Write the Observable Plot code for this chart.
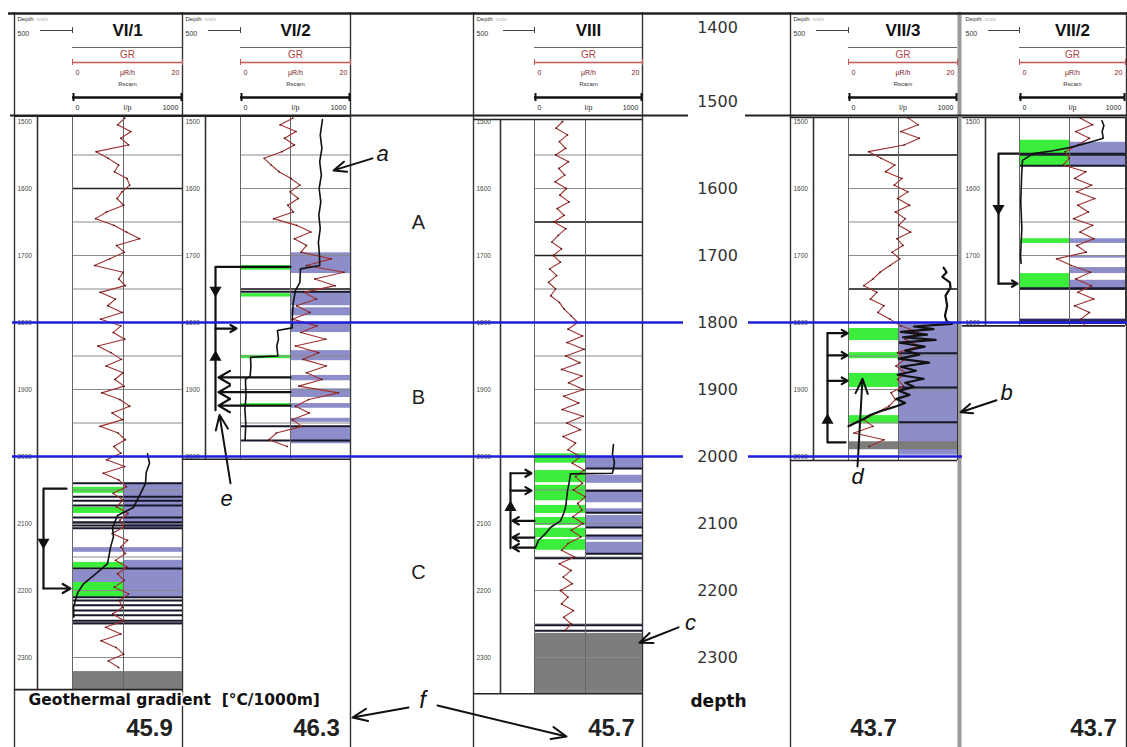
<!DOCTYPE html>
<html><head><meta charset="utf-8">
<script src="https://cdn.jsdelivr.net/npm/d3@7"></script>
<script src="https://cdn.jsdelivr.net/npm/@observablehq/plot@0.6"></script>
<style>
html,body{margin:0;padding:0;background:#fff;}
#chart{position:relative;width:1127px;height:747px;overflow:hidden;background:#fff;}
#chart svg{position:absolute;left:0;top:0;}
</style></head>
<body><div id="chart"></div>
<script>
// ================= DATA =================
const wellNames = ["VI/1", "VI/2", "VIII", "VII/3", "VII/2"];
const logTop = [1492, 1492, 1497, 1494, 1494];
const logBottom = [2348, 2004, 2354, 2006, 1805];
const geoGradient = ["45.9", "46.3", "45.7", "43.7", "43.7"];
const centralDepths = [1400, 1500, 1600, 1700, 1800, 1900, 2000, 2100, 2200, 2300];
const zoneLetters = ["A", "B", "C"];
const zoneDepths = [1651, 1912, 2173];
const horizonDepths = [1800, 2000];

// GR (µR/h, 0–20), sampled every 10 m from grStart
const grStep = 10;
const grStart = [1495, 1495, 1500, 1495, 1495];
const grVI1 = [9.5,8.2,10.6,8.8,10.2,4.3,6.5,8.4,7.6,9.9,10.4,9.0,8.1,9.3,6.2,4.2,7.5,9.8,12.2,8.0,9.4,6.8,4.0,9.2,8.4,9.6,5.0,7.8,6.4,9.0,5.1,8.8,7.4,9.5,4.6,7.0,8.9,6.1,9.2,7.7,9.4,5.3,8.6,10.4,7.2,9.1,5.0,8.3,9.6,7.5,8.8,6.2,9.5,5.6,8.4,9.8,7.4,9.2,8.0,10.1,8.6,9.4,7.2,10.0,8.8,9.6,7.8,9.9,8.2,9.4,7.6,10.2,8.5,9.1,7.3,9.4,6.0,8.8,5.2,7.9,9.3,6.5,8.4];
const grVI2 = [9.5,7.2,10.1,8.0,9.8,7.5,4.3,5.6,7.0,9.2,10.8,9.0,10.5,8.6,9.6,6.0,10.2,12.8,9.8,12.0,11.0,16.5,12.0,18.8,13.5,17.2,11.5,13.8,10.2,12.6,9.4,13.9,11.0,15.5,10.0,14.2,11.4,15.6,12.0,14.8,10.6,17.8,12.4,10.0,12.5,9.4,11.2,6.5,5.2,8.5];
const grVIII = [5.2,4.0,6.1,4.6,5.8,3.9,6.3,4.5,5.6,3.8,5.9,4.7,6.4,4.2,5.5,3.6,5.8,4.4,3.2,5.0,3.5,4.8,2.8,4.1,2.6,3.9,3.0,4.6,5.5,6.8,8.0,6.2,8.9,6.0,9.2,5.8,8.4,5.0,8.8,6.3,9.1,5.4,8.2,5.1,9.0,6.0,8.5,5.3,7.6,6.2,8.5,7.0,9.2,7.6,8.9,7.2,9.4,8.0,8.8,7.1,9.0,6.8,8.6,6.2,5.0,7.4,4.6,6.8,5.3,7.0,4.8,6.2,5.0,7.2,5.4,6.8,5.6];
const grVII3 = [11.0,12.8,9.6,13.0,10.2,3.7,6.0,8.5,6.8,9.8,8.4,10.9,9.0,11.2,8.6,10.4,9.2,11.4,8.9,10.0,8.0,9.4,7.6,5.8,4.5,2.8,5.2,4.0,6.5,5.4,7.6,9.6,12.8,10.4,13.0,9.0,10.3,8.7,10.5,9.0,10.1,7.8,8.6,7.4,5.0,2.8,4.5,1.0,6.5,3.8];
const grVII2 = [11.5,13.8,10.6,13.2,11.0,8.6,9.4,8.2,12.5,10.4,13.6,10.8,14.2,11.0,13.0,10.2,13.8,11.4,14.0,10.8,12.6,7.0,9.8,13.4,10.6,13.6,11.0,14.0,10.4,13.2,11.6,12.4];

// Resistivity-type log (I/p, 0–1000): [depth, value]
const rtVI1 = [[1996,682],[2010,700],[2024,670],[2040,664],[2058,610],[2076,555],[2088,409],[2106,364],[2120,372],[2136,345],[2150,330],[2160,318],[2173,227],[2190,100],[2204,45],[2225,9],[2240,12]];
const rtVI2 = [[1497,745],[1520,725],[1540,740],[1560,720],[1580,735],[1600,715],[1620,730],[1640,712],[1660,725],[1680,708],[1700,718],[1715,720],[1720,545],[1740,540],[1752,500],[1770,480],[1790,472],[1808,470],[1812,336],[1825,345],[1835,330],[1850,340],[1852,91],[1865,95],[1880,88],[1885,45],[1910,50],[1930,40],[1950,48],[1975,42]];
const rtVIII = [[1982,731],[1996,722],[2009,740],[2021,728],[2025,720],[2026,333],[2040,320],[2051,306],[2060,300],[2076,287],[2085,270],[2096,241],[2106,148],[2115,102],[2125,37],[2136,9]];
const rtVII3 = [[1718,872],[1725,900],[1732,860],[1740,930],[1748,936],[1760,890],[1775,905],[1790,885],[1798,900],[1802,950],[1806,600],[1810,780],[1814,480],[1818,720],[1822,500],[1826,800],[1830,470],[1836,700],[1842,520],[1848,650],[1854,460],[1860,740],[1866,480],[1872,620],[1878,450],[1884,690],[1890,520],[1896,600],[1902,460],[1908,560],[1914,440],[1920,520],[1926,420],[1932,300],[1938,200],[1944,138],[1950,60],[1955,0]];
const rtVII2 = [[1499,778],[1506,796],[1515,780],[1525,790],[1532,640],[1539,472],[1544,300],[1548,130],[1558,28],[1580,20],[1620,12],[1660,22],[1700,10],[1712,15]];

// coloured beds [top, bottom] (m)
const greenVI1 = [[2046,2055],[2076,2085],[2158,2167],[2188,2210]];
const greenVI2 = [[1715,1722],[1757,1762],[1849,1854],[1921,1924]];
const greenVIII = [[1996,2010],[2021,2039],[2043,2066],[2073,2085],[2091,2103],[2107,2121],[2124,2140]];
const greenVII3 = [[1809,1827],[1845,1854],[1876,1897],[1939,1951]];
const greenVII2 = [[1528,1566],[1675,1682],[1727,1749]];
const blueVI1 = [[2040,2107],[2155,2210]];
const blueVI2 = [[1696,1727],[1754,1775],[1778,1790],[1801,1815],[1842,1857],[1879,1887],[1899,1912],[1921,1928],[1943,1949],[1957,1981]];
const blueVIII = [[2001,2018],[2028,2040],[2051,2069],[2078,2084],[2088,2106],[2118,2125],[2128,2145]];
const blueVII3 = [[1800,1998]];
const blueVII2 = [[1531,1566],[1675,1682],[1700,1704],[1718,1727],[1737,1752]];
const blueLeftVI1 = [[2170,2188]];
const blueFullVI1 = [[2136,2143]];
const grayVI1 = [[2321,2348]];
const grayVIII = [[2264,2354]];
const grayVII3 = [[1978,1990]];
const navyVII2 = [[1795,1803]];
// bed boundary lines (m)
const bedLinesVI1 = [2040,2060,2066,2073,2091,2098,2103,2107,2167,2210,2215,2222,2230,2237,2245,2249];
const bedLinesVI2 = [1754,1955,1976];
const bedLinesVIII = [2152,2252,2260];
const bedLinesVIIIright = [2018,2051,2084,2106,2118,2145];
const bedLinesVII3right = [1846,1897,1949];
const bedLinesVII2 = [1548,1566,1749];
const formationTops = [[1600],[1750],[1650,1700],[1550,1750],[1550,1750]];

// ================= LAYOUT (pixels) =================
const W = 1127, H = 747;
const layout = {
  "VI/1":  {panel:[14,182],  dcol:37,  track:[72,182],   mid:123,  gradX:149},
  "VI/2":  {panel:[182,350], dcol:205, track:[240,350],  mid:290,  gradX:316},
  "VIII":  {panel:[473,642], dcol:500, track:[534,642],  mid:585,  gradX:611},
  "VII/3": {panel:[790,960], dcol:813, track:[848,957],  mid:898,  gradX:873},
  "VII/2": {panel:[962,1126],dcol:985, track:[1019,1125],mid:1069, gradX:1093}
};
const depthY = {domain:[1800,2000], range:[322,456], axis:null};
const C = {green:"#3cee3c", blue:"#8d8dca", gray:"#7c7c7c", navy:"#28285e", bed:"#17172a", hz:"#1e1ed8", gr:"#a03030"};
const baseStyle = {position:"absolute", left:"0px", top:"0px", background:"transparent", overflow:"visible", fontFamily:"'Liberation Sans', Arial, sans-serif"};

// ================= TABLES =================
const greens = [greenVI1, greenVI2, greenVIII, greenVII3, greenVII2];
const blues = [blueVI1, blueVI2, blueVIII, blueVII3, blueVII2];
const grs = [grVI1, grVI2, grVIII, grVII3, grVII2];
const rts = [rtVI1, rtVI2, rtVIII, rtVII3, rtVII2];

const beds = [];
function addBeds(well, list, side, color){ list.forEach(([t,b]) => beds.push({well, side, color, top:t, bottom:b})); }
wellNames.forEach((w,i) => { addBeds(w, greens[i], "left", C.green); addBeds(w, blues[i], "right", C.blue); });
addBeds("VI/1", blueLeftVI1, "left", C.blue);
addBeds("VI/1", blueFullVI1, "full", C.blue);
addBeds("VI/1", grayVI1, "full", C.gray);
addBeds("VIII", grayVIII, "full", C.gray);
addBeds("VII/3", grayVII3, "full", C.gray);
addBeds("VII/2", navyVII2, "full", C.navy);

const bedLines = [];
function addLines(well, list, side){ list.forEach(d => bedLines.push({well, side, depth:d})); }
addLines("VI/1", bedLinesVI1, "full"); addLines("VI/2", bedLinesVI2, "full");
addLines("VIII", bedLinesVIII, "full"); addLines("VIII", bedLinesVIIIright, "right");
addLines("VII/3", bedLinesVII3right, "right"); addLines("VII/2", bedLinesVII2, "full");

const xLeft = d => d.side === "right" ? layout[d.well].mid : layout[d.well].track[0];
const xRight = d => d.side === "left" ? layout[d.well].mid : layout[d.well].track[1];

const grid = [], tops = [], depthLabels = [], frames = [];
wellNames.forEach((w,i) => {
  for (let d = 1550; d < logBottom[i]; d += 50) if (d > logTop[i]) grid.push({well:w, depth:d});
  formationTops[i].forEach(d => tops.push({well:w, depth:d}));
  for (let d = 1500; d <= logBottom[i] - 2; d += 100) if (d >= logTop[i]) depthLabels.push({well:w, depth:d});
  const L = layout[w];
  [L.dcol, L.track[0], L.mid, L.track[1]].forEach((x,k) => frames.push({well:w, x, top:logTop[i], bottom:logBottom[i], k}));
});
const logEnds = wellNames.flatMap((w,i) => [{well:w, depth:logTop[i]}, {well:w, depth:logBottom[i]}]);

// annotation geometry (x in px, y in depth)
const bracketPaths = [
  {id:"VI1", pts:[[66,2048],[43,2048],[43,2197]]},
  {id:"VI2", pts:[[290,1717],[215,1717],[215,1931]]},
  {id:"VIII", pts:[[510,2025],[510,2137]]},
  {id:"VII3", pts:[[845,1979],[827,1979],[827,1816]]},
  {id:"VII2", pts:[[1018,1548],[998,1548],[998,1742]]}
].flatMap(b => b.pts.map(([x,y]) => ({id:b.id, x, y})));
const bracketArrows = [
  [43,2197,70,2197],
  [215,1809,236,1809],[290,1882,218,1882],[290,1904,218,1904],[290,1924,218,1924],
  [510,2025,531,2025],[510,2051,531,2051],[534,2096,512,2096],[534,2121,512,2121],[534,2136,512,2136],
  [827,1816,847,1816],[827,1849,847,1849],[827,1887,847,1887],
  [998,1742,1017,1742]
].map(([x1,y1,x2,y2]) => ({x1,y1,x2,y2}));
const bracketHeads = [
  {x:43,y:2128,dir:180},{x:215,y:1752,dir:180},{x:215,y:1852,dir:0},
  {x:510,y:2076,dir:0},{x:827,y:1946,dir:0},{x:998,y:1630,dir:180}
];
const pointerArrows = [
  {x1:372,y1:1555,x2:333,y2:1573},{x1:996,y1:1916,x2:960,y2:1934},
  {x1:678,y1:2255,x2:639,y2:2278},{x1:857,y1:2015,x2:862,y2:1884},
  {x1:230,y1:2040,x2:219,y2:1938}
];
const pointerLabels = [
  {t:"a",x:382,y:1549},{t:"b",x:1006,y:1905},{t:"c",x:690,y:2248},{t:"d",x:857,y:2030},{t:"e",x:226,y:2064}
];
const horizonSegs = [
  {depth:1800,x1:12,x2:683},{depth:1800,x1:748,x2:1127},
  {depth:2000,x1:12,x2:683},{depth:2000,x1:748,x2:962}
];

// ================= PLOTS =================
const chart = document.getElementById("chart");
function add(p){ chart.appendChild(p); }

// --- frame / header layer (pixel coordinates) ---
const hdr = wellNames.map(w => ({w, ...layout[w], cx:(layout[w].track[0]+layout[w].track[1])/2}));
const borders = [14,182,350,473,642,790,1126];
add(Plot.plot({
  width:W, height:H, margin:0, style:baseStyle,
  x:{type:"identity", axis:null}, y:{type:"identity", axis:null},
  marks:[
    Plot.ruleX(borders, {x:d=>d, y1:12, y2:747, stroke:"#333", strokeWidth:1.4}),
    Plot.ruleX([959], {x:d=>d, y1:12, y2:747, stroke:"#9a9a9a", strokeWidth:4}),
    Plot.ruleY([13], {y:d=>d, x1:8, x2:1127, stroke:"#222", strokeWidth:2.5}),
    Plot.ruleY([{x1:10,x2:688},{x1:745,x2:1127}], {y:115, x1:"x1", x2:"x2", stroke:"#222", strokeWidth:2}),
    // header per well
    Plot.text(hdr, {x:d=>d.panel[0]+3, y:19, text:()=>"Depth", fontSize:6, textAnchor:"start", fill:"#333"}),
    Plot.text(hdr, {x:d=>d.panel[0]+22, y:19, text:()=>"scale", fontSize:5, textAnchor:"start", fill:"#bbb"}),
    Plot.text(hdr, {x:d=>d.panel[0]+3, y:33, text:()=>"500", fontSize:7, textAnchor:"start", fill:"#333"}),
    Plot.ruleY(hdr, {y:30, x1:d=>d.dcol+3, x2:d=>d.track[0], stroke:"#444", strokeWidth:1}),
    Plot.ruleX(hdr, {x:d=>d.track[0], y1:27, y2:33, stroke:"#444"}),
    Plot.text(hdr, {x:"cx", y:30, text:"w", fontSize:17, fontWeight:"bold", fill:"#111"}),
    Plot.ruleY(hdr, {y:47, x1:d=>d.track[0], x2:d=>d.track[1], stroke:"#666", strokeWidth:1}),
    Plot.text(hdr, {x:"cx", y:54, text:()=>"GR", fontSize:10, fill:"#b04848"}),
    Plot.ruleY(hdr, {y:62, x1:d=>d.track[0], x2:d=>d.track[1], stroke:"#c35a5a", strokeWidth:1.3}),
    Plot.ruleX(hdr, {x:d=>d.track[0], y1:59, y2:65, stroke:"#c35a5a"}),
    Plot.ruleX(hdr, {x:d=>d.track[1], y1:59, y2:65, stroke:"#c35a5a"}),
    Plot.text(hdr, {x:d=>d.track[0]+5, y:72, text:()=>"0", fontSize:7, fill:"#7a2020"}),
    Plot.text(hdr, {x:"cx", y:72, text:()=>"µR/h", fontSize:7, fill:"#7a2020"}),
    Plot.text(hdr, {x:d=>d.track[1]-7, y:72, text:()=>"20", fontSize:7, fill:"#7a2020"}),
    Plot.text(hdr, {x:"cx", y:84, text:()=>"Rscam", fontSize:6, fill:"#333"}),
    Plot.ruleY(hdr, {y:97, x1:d=>d.track[0], x2:d=>d.track[1], stroke:"#111", strokeWidth:2.5}),
    Plot.ruleX(hdr, {x:d=>d.track[0]+1, y1:93, y2:101, stroke:"#111", strokeWidth:2}),
    Plot.ruleX(hdr, {x:d=>d.track[1]-1, y1:93, y2:101, stroke:"#111", strokeWidth:2}),
    Plot.text(hdr, {x:d=>d.track[0]+5, y:107, text:()=>"0", fontSize:7, fill:"#222"}),
    Plot.text(hdr, {x:"cx", y:107, text:()=>"I/p", fontSize:7, fill:"#222"}),
    Plot.text(hdr, {x:d=>d.track[1]-12, y:107, text:()=>"1000", fontSize:7, fill:"#222"}),
    // central depth scale (header part)
    Plot.text(centralDepths.filter(d => d < 1600), {x:717, y:(d,i)=>[27,101][i], text:d=>String(d), fontSize:16, fontFamily:"'DejaVu Sans', sans-serif", fill:"#333"}),
    // bottom
    Plot.text(["Geothermal gradient  [°C/1000m]"], {x:28, y:700, text:d=>d, textAnchor:"start", fontSize:15.5, fontWeight:"bold", fontFamily:"'DejaVu Sans', sans-serif", fill:"#111", stroke:"white", strokeWidth:4}),
    Plot.text(hdr, {x:"gradX", y:728, text:(d,i)=>geoGradient[i], fontSize:24, fontWeight:"bold", fill:"#222"}),
    Plot.text(["depth"], {x:718, y:701, text:d=>d, fontSize:17, fontWeight:"bold", fontFamily:"'DejaVu Sans', sans-serif", fill:"#111"}),
    Plot.text(["f"], {x:422, y:700, text:d=>d, fontSize:24, fontStyle:"italic", fill:"#111"}),
    Plot.arrow([{x1:408,y1:707,x2:352,y2:717},{x1:437,y1:705,x2:566,y2:736}], {x1:"x1",y1:"y1",x2:"x2",y2:"y2", stroke:"#111", strokeWidth:2, headLength:12, headAngle:45})
  ]
}));

// --- depth layer: beds, grid, frames ---
add(Plot.plot({
  width:W, height:H, margin:0, style:baseStyle,
  x:{type:"identity", axis:null}, y:depthY, color:{type:"identity"},
  marks:[
    Plot.rect(beds, {x1:xLeft, x2:xRight, y1:"top", y2:"bottom", fill:"color"}),
    Plot.ruleY(grid, {y:"depth", x1:d=>layout[d.well].track[0], x2:d=>layout[d.well].track[1], stroke:"#8a8a8a", strokeWidth:1}),
    Plot.ruleY(tops, {y:"depth", x1:d=>layout[d.well].track[0], x2:d=>layout[d.well].track[1], stroke:"#222", strokeWidth:1.6}),
    Plot.ruleY(bedLines, {y:"depth", x1:xLeft, x2:xRight, stroke:C.bed, strokeWidth:2}),
    Plot.ruleX(frames, {x:"x", y1:"top", y2:"bottom", stroke:d=>d.k===0||d.k===3?"#333":"#666", strokeWidth:d=>d.k===0?1.6:1}),
    Plot.ruleY(logEnds, {y:"depth", x1:d=>layout[d.well].panel[0], x2:d=>layout[d.well].track[1], stroke:"#222", strokeWidth:1.6}),
    Plot.text(depthLabels, {x:d=>layout[d.well].panel[0]+3, y:"depth", text:d=>String(d.depth), fontSize:6.5, textAnchor:"start", fill:"#444"}),
    Plot.text(centralDepths.filter(d => d >= 1600), {x:717, y:d=>d, text:d=>String(d), fontSize:16, fontFamily:"'DejaVu Sans', sans-serif", fill:"#333"}),
    Plot.text(zoneLetters, {x:418, y:(d,i)=>zoneDepths[i], text:d=>d, fontSize:20, fill:"#222"})
  ]
}));

// --- well curve layers (GR scale 0–20 across each track) ---
wellNames.forEach((w,i) => {
  const L = layout[w];
  const grData = grs[i].map((v,k) => ({depth:grStart[i] + k*grStep, gr:v}));
  const rtData = rts[i].map(([d,v]) => ({depth:d, rt:v}));
  add(Plot.plot({
    width:W, height:H, margin:0, style:baseStyle,
    x:{domain:[0,20], range:L.track, axis:null}, y:depthY,
    marks:[
      Plot.line(grData, {x:"gr", y:"depth", stroke:C.gr, strokeWidth:1.1}),
      Plot.dot(grData, {x:"gr", y:"depth", r:0.9, fill:"#3c0a0a", fillOpacity:0.8}),
      Plot.line(rtData, {x:d=>d.rt/50, y:"depth", stroke:"#111", strokeWidth:w==="VII/3"?2.2:1.6})
    ]
  }));
});

// --- annotation layer ---
add(Plot.plot({
  width:W, height:H, margin:0, style:baseStyle,
  x:{type:"identity", axis:null}, y:depthY,
  marks:[
    Plot.line(bracketPaths, {x:"x", y:"y", z:"id", stroke:"#111", strokeWidth:2.2}),
    Plot.arrow(bracketArrows, {x1:"x1", y1:"y1", x2:"x2", y2:"y2", stroke:"#111", strokeWidth:2.2, headLength:9, headAngle:60}),
    Plot.dot(bracketHeads, {x:"x", y:"y", symbol:"triangle", r:4.5, fill:"#111", rotate:"dir"}),
    Plot.arrow(pointerArrows, {x1:"x1", y1:"y1", x2:"x2", y2:"y2", stroke:"#111", strokeWidth:2, headLength:12, headAngle:45}),
    Plot.text(pointerLabels, {x:"x", y:"y", text:"t", fontSize:22, fontStyle:"italic", fill:"#111"}),
    Plot.ruleY(horizonSegs, {y:"depth", x1:"x1", x2:"x2", stroke:C.hz, strokeWidth:2.5})
  ]
}));
</script>
</body></html>
